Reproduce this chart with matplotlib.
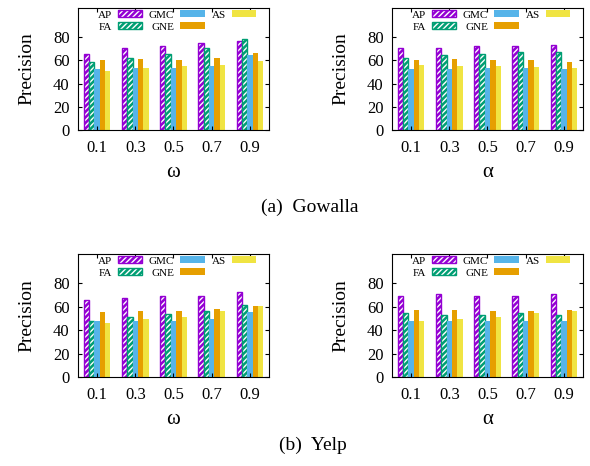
import numpy as np
import matplotlib
matplotlib.use('Agg')
import matplotlib.pyplot as plt
from matplotlib.legend_handler import HandlerTuple

plt.rcParams['font.family'] = ['Liberation Serif', 'DejaVu Serif']
plt.rcParams['hatch.color'] = 'white'
plt.rcParams['hatch.linewidth'] = 1.0

# dados
params = ['0.1', '0.3', '0.5', '0.7', '0.9']
methods = ['AP', 'FA', 'GMC', 'GNE', 'AS']
colors = ['#9400d3', '#009e73', '#56b4e9', '#e69f00', '#f0e442']

gowalla_omega = {
    'AP':  [65.3, 70.2, 72.5, 75.1, 76.3],
    'FA':  [58.4, 62.2, 65.3, 70.2, 78.6],
    'GMC': [52.4, 53.2, 53.2, 55.3, 64.2],
    'GNE': [60.4, 61.3, 60.4, 62.2, 66.5],
    'AS':  [50.4, 53.5, 55.3, 56.1, 59.6],
}
gowalla_alpha = {
    'AP':  [70.2, 70.2, 72.5, 72.5, 73.4],
    'FA':  [62.2, 64.2, 65.3, 67.3, 67.3],
    'GMC': [52.4, 52.4, 53.2, 53.2, 52.4],
    'GNE': [60.4, 61.3, 60.4, 60.4, 58.4],
    'AS':  [56.1, 55.3, 55.3, 54.4, 53.5],
}
yelp_omega = {
    'AP':  [65.6, 67.6, 69.3, 69.3, 72.5],
    'FA':  [48.2, 51.4, 53.4, 56.3, 61.5],
    'GMC': [48.2, 47.4, 48.2, 49.4, 55.5],
    'GNE': [55.2, 56.3, 56.3, 58.3, 60.4],
    'AS':  [46.5, 49.4, 51.4, 56.3, 60.4],
}
yelp_alpha = {
    'AP':  [69.3, 70.5, 69.3, 69.3, 70.5],
    'FA':  [54.3, 53.1, 53.1, 54.3, 53.1],
    'GMC': [47.4, 47.4, 48.2, 48.2, 48.2],
    'GNE': [57.5, 57.5, 56.3, 56.3, 57.5],
    'AS':  [47.4, 49.4, 51.4, 54.3, 56.3],
}

fig = plt.figure(figsize=(5.9, 4.66), dpi=100)


def painel(rect, data, xlabel):
    ax = fig.add_axes(rect)
    x = np.arange(len(params))
    w = 0.14
    handles = []
    for i, (m, c) in enumerate(zip(methods, colors)):
        pos = x + (i - 2) * w
        if m in ('AP', 'FA'):
            # hachura branca + contorno colorido
            b1 = ax.bar(pos, data[m], w, color=c, hatch='//////', linewidth=0)
            b2 = ax.bar(pos, data[m], w, facecolor='none', edgecolor=c, linewidth=1.0)
            handles.append((b1, b2))
        else:
            b1 = ax.bar(pos, data[m], w, color=c, linewidth=0)
            handles.append(b1)
    ax.set_xlim(-0.5, len(params) - 0.5)
    ax.set_ylim(0, 105)
    ax.set_yticks([0, 20, 40, 60, 80])
    ax.set_xticks(x)
    ax.set_xticklabels(params)
    ax.tick_params(direction='in', top=True, right=True, labelsize=12, length=3, pad=6)
    ax.tick_params(axis='x', pad=7)
    ax.set_ylabel('Precision', fontsize=14, labelpad=13)
    ax.set_xlabel(xlabel, fontsize=15, labelpad=5)
    ax.legend(handles, methods, ncol=3, markerfirst=False, frameon=False,
              loc='upper left', bbox_to_anchor=(0.09, 1.0), fontsize=8,
              borderpad=0, borderaxespad=0.2,
              handlelength=2.2, handleheight=0.55, handletextpad=0.55,
              columnspacing=0.6, labelspacing=0.25,
              handler_map={tuple: HandlerTuple(ndivide=1, pad=0)})
    return ax


painel([0.1322, 0.7210, 0.3237, 0.2618], gowalla_omega, 'ω')
painel([0.6644, 0.7210, 0.3237, 0.2618], gowalla_alpha, 'α')
painel([0.1322, 0.1910, 0.3237, 0.2639], yelp_omega, 'ω')
painel([0.6644, 0.1910, 0.3237, 0.2639], yelp_alpha, 'α')

fig.text(0.525, 1 - 207 / 466, '(a)  Gowalla', ha='center', va='center', fontsize=14)
fig.text(0.53, 1 - 445 / 466, '(b)  Yelp', ha='center', va='center', fontsize=14)

plt.savefig('out.png', dpi=100)
